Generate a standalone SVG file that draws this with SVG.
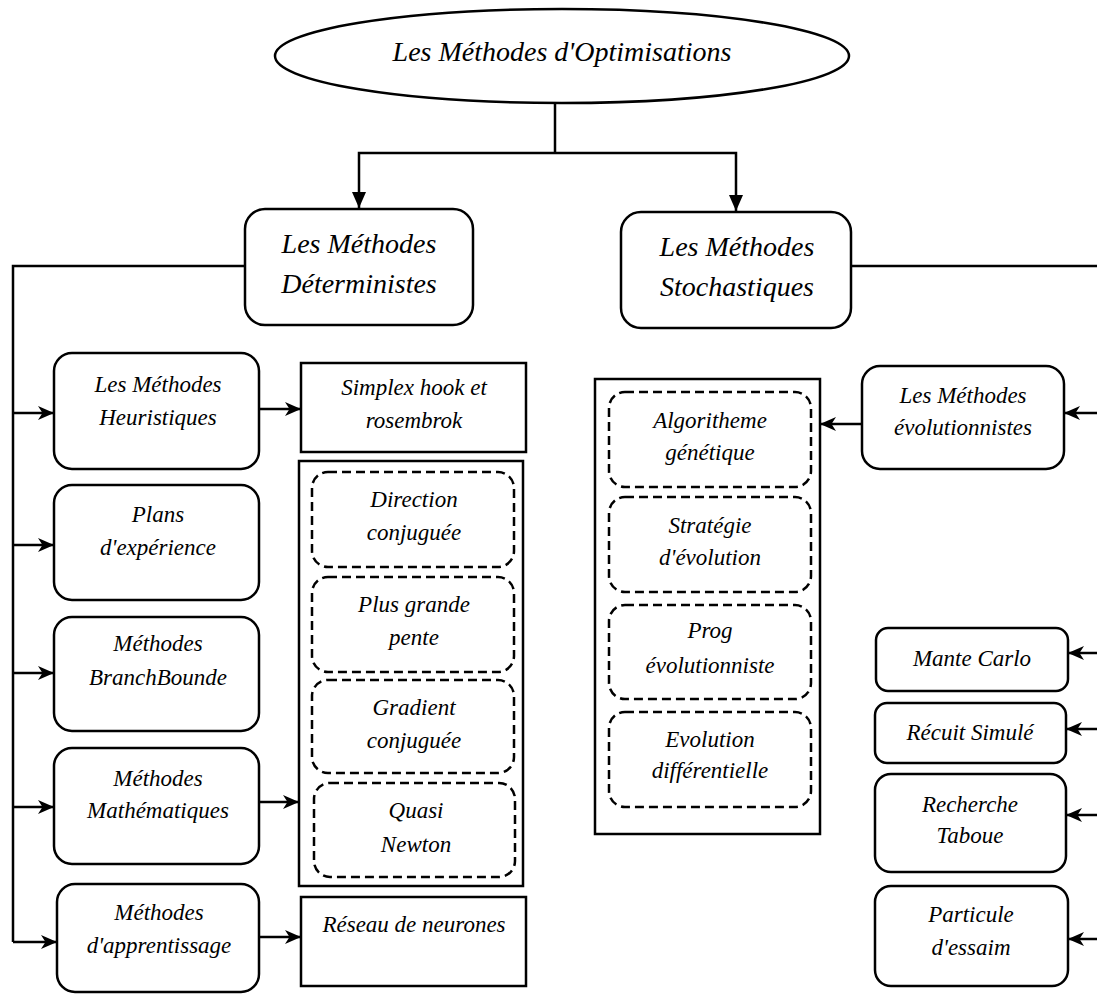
<svg xmlns="http://www.w3.org/2000/svg" width="1097" height="994" viewBox="0 0 1097 994">
  <style>
    .box { fill: #fff; stroke: #000; stroke-width: 2.5; }
    .dash { fill: none; stroke: #000; stroke-width: 2.5; stroke-dasharray: 9 5; }
    .wire { fill: none; stroke: #000; stroke-width: 2.5; }
    .arrow { marker-end: url(#barb); }
    .drop { marker-end: url(#tri); }
    text { font-family: "Liberation Serif", "DejaVu Serif", serif; font-style: italic; fill: #000; text-anchor: middle; }
    .big { font-size: 28px; }
    .small { font-size: 23px; }
  </style>
  <defs>
    <marker id="tri" markerUnits="userSpaceOnUse" markerWidth="16" markerHeight="14" refX="16" refY="7" orient="auto" viewBox="0 0 16 14">
      <path d="M0,0 L16,7 L0,14 z" fill="#000"/>
    </marker>
    <marker id="barb" markerUnits="userSpaceOnUse" markerWidth="16" markerHeight="14" refX="16" refY="7" orient="auto" viewBox="0 0 16 14">
      <path d="M0,0 L16,7 L0,14 L4.5,7 z" fill="#000"/>
    </marker>
  </defs>

  <!-- connectors -->
  <g id="connectors">
    <path class="wire" d="M555,104 V153"/>
    <path class="wire drop" d="M555,153 H359 V208"/>
    <path class="wire drop" d="M555,153 H736 V211"/>

    <!-- deterministic branch -->
    <path class="wire" d="M245,266 H13 V942"/>
    <path class="wire arrow" d="M13,413 H54"/>
    <path class="wire arrow" d="M13,545 H54"/>
    <path class="wire arrow" d="M13,673 H54"/>
    <path class="wire arrow" d="M13,807 H54"/>
    <path class="wire arrow" d="M13,942 H57"/>
    <path class="wire arrow" d="M259,409 H301"/>
    <path class="wire arrow" d="M259,802 H299"/>
    <path class="wire arrow" d="M259,937 H301"/>

    <!-- stochastic branch -->
    <path class="wire" d="M851,266 H1097"/>
    <path class="wire arrow" d="M1097,413 H1064"/>
    <path class="wire arrow" d="M862,424 H820"/>
    <path class="wire arrow" d="M1097,653 H1068"/>
    <path class="wire arrow" d="M1097,729 H1066"/>
    <path class="wire arrow" d="M1097,815 H1066"/>
    <path class="wire arrow" d="M1097,939 H1068"/>
  </g>

  <!-- root -->
  <g id="root">
    <ellipse class="box" cx="562" cy="56" rx="287" ry="47"/>
    <text class="big" x="562" y="61">Les Méthodes d'Optimisations</text>
  </g>

  <g id="deterministes">
    <rect class="box" x="245" y="209" width="228" height="116" rx="20"/>
    <text class="big" x="359" y="253">Les Méthodes</text>
    <text class="big" x="359" y="293">Déterministes</text>
  </g>

  <g id="stochastiques">
    <rect class="box" x="621" y="212" width="230" height="116" rx="20"/>
    <text class="big" x="737" y="256">Les Méthodes</text>
    <text class="big" x="737" y="296">Stochastiques</text>
  </g>

  <!-- deterministic families -->
  <g id="heuristiques">
    <rect class="box" x="54" y="353" width="205" height="116" rx="18"/>
    <text class="small" x="158" y="392">Les Méthodes</text>
    <text class="small" x="158" y="425">Heuristiques</text>
  </g>
  <g id="plans">
    <rect class="box" x="54" y="485" width="205" height="115" rx="18"/>
    <text class="small" x="158" y="522">Plans</text>
    <text class="small" x="158" y="555">d'expérience</text>
  </g>
  <g id="branchbounde">
    <rect class="box" x="54" y="617" width="205" height="114" rx="18"/>
    <text class="small" x="158" y="651">Méthodes</text>
    <text class="small" x="158" y="685">BranchBounde</text>
  </g>
  <g id="mathematiques">
    <rect class="box" x="54" y="748" width="205" height="116" rx="18"/>
    <text class="small" x="158" y="786">Méthodes</text>
    <text class="small" x="158" y="818">Mathématiques</text>
  </g>
  <g id="apprentissage">
    <rect class="box" x="57" y="884" width="202" height="108" rx="18"/>
    <text class="small" x="159" y="920">Méthodes</text>
    <text class="small" x="159" y="953">d'apprentissage</text>
  </g>

  <g id="simplex">
    <rect class="box" x="301" y="363" width="225" height="89"/>
    <text class="small" x="414" y="395">Simplex hook et</text>
    <text class="small" x="414" y="428">rosembrok</text>
  </g>

  <g id="math-methods">
    <rect class="box" x="299" y="461" width="224" height="425"/>
    <rect class="dash" x="312" y="472" width="202" height="95" rx="16"/>
    <text class="small" x="414" y="507">Direction</text>
    <text class="small" x="414" y="540">conjuguée</text>
    <rect class="dash" x="312" y="577" width="202" height="95" rx="16"/>
    <text class="small" x="414" y="612">Plus grande</text>
    <text class="small" x="414" y="645">pente</text>
    <rect class="dash" x="312" y="680" width="202" height="93" rx="16"/>
    <text class="small" x="414" y="715">Gradient</text>
    <text class="small" x="414" y="748">conjuguée</text>
    <rect class="dash" x="314" y="783" width="201" height="94" rx="16"/>
    <text class="small" x="416" y="818">Quasi</text>
    <text class="small" x="416" y="852">Newton</text>
  </g>

  <g id="reseau">
    <rect class="box" x="301" y="897" width="225" height="89"/>
    <text class="small" x="414" y="932">Réseau de neurones</text>
  </g>

  <!-- stochastic families -->
  <g id="evolutionnistes-list">
    <rect class="box" x="595" y="379" width="225" height="455"/>
    <rect class="dash" x="609" y="392" width="202" height="95" rx="16"/>
    <text class="small" x="710" y="428">Algoritheme</text>
    <text class="small" x="710" y="460">génétique</text>
    <rect class="dash" x="609" y="497" width="202" height="95" rx="16"/>
    <text class="small" x="710" y="533">Stratégie</text>
    <text class="small" x="710" y="565">d'évolution</text>
    <rect class="dash" x="609" y="605" width="202" height="94" rx="16"/>
    <text class="small" x="710" y="638">Prog</text>
    <text class="small" x="710" y="673">évolutionniste</text>
    <rect class="dash" x="609" y="712" width="202" height="95" rx="16"/>
    <text class="small" x="710" y="747">Evolution</text>
    <text class="small" x="710" y="778">différentielle</text>
  </g>

  <g id="evolutionnistes">
    <rect class="box" x="862" y="366" width="202" height="103" rx="18"/>
    <text class="small" x="963" y="403">Les Méthodes</text>
    <text class="small" x="963" y="435">évolutionnistes</text>
  </g>
  <g id="monte-carlo">
    <rect class="box" x="876" y="628" width="192" height="63" rx="12"/>
    <text class="small" x="972" y="666">Mante Carlo</text>
  </g>
  <g id="recuit">
    <rect class="box" x="875" y="703" width="191" height="60" rx="12"/>
    <text class="small" x="970" y="740">Récuit Simulé</text>
  </g>
  <g id="tabou">
    <rect class="box" x="875" y="774" width="191" height="98" rx="16"/>
    <text class="small" x="970" y="812">Recherche</text>
    <text class="small" x="970" y="843">Taboue</text>
  </g>
  <g id="essaim">
    <rect class="box" x="875" y="886" width="193" height="100" rx="16"/>
    <text class="small" x="971" y="922">Particule</text>
    <text class="small" x="971" y="955">d'essaim</text>
  </g>
</svg>
